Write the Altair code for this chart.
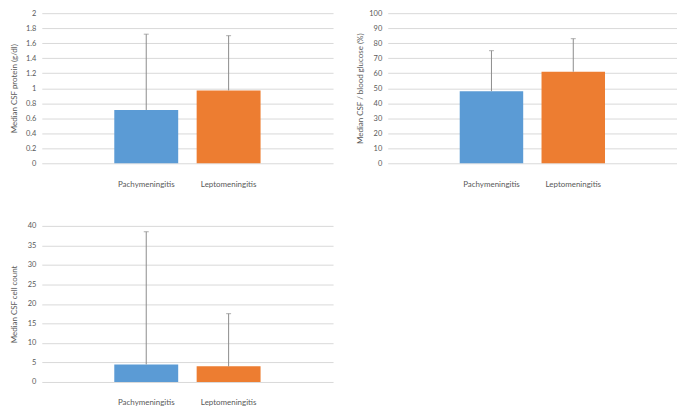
import altair as alt
import pandas as pd

categories = ["Pachymeningitis", "Leptomeningitis"]
colors = ["#5B9BD5", "#ED7D31"]

protein = [0.71, 0.97]
protein_upper = [1.72, 1.70]

glucose = [48, 61]
glucose_upper = [75, 83]

cells = [4.5, 4.0]
cells_upper = [38.5, 17.5]

FONT = "Lato"
TXT = "#595959"


def panel(values, upper, title, dmax, step, width, height):
    df = pd.DataFrame({"cat": categories, "v": values, "u": upper})
    ticks = [round(i * step, 6) for i in range(int(round(dmax / step)) + 1)]
    x = alt.X(
        "cat:N",
        sort=categories,
        scale=alt.Scale(paddingInner=0.224, paddingOuter=0.88),
        axis=alt.Axis(
            title=None, labelAngle=0, domain=False, ticks=False,
            labelPadding=17, labelFontSize=8, labelColor=TXT, labelFont=FONT,
        ),
    )
    y_axis = alt.Axis(
        title=title, values=ticks, format=".2~f", grid=True, domain=False,
        ticks=False, labelPadding=6, labelFontSize=7.5, labelColor=TXT,
        labelFont=FONT, titleFont=FONT, titleFontSize=8, titleColor=TXT,
        titleFontWeight="normal", titlePadding=5, minExtent=18, maxExtent=18,
        gridColor="#d9d9d9", gridWidth=1, labelOverlap=False,
    )
    yscale = alt.Scale(domain=[0, dmax], nice=False)
    y = alt.Y("v:Q", scale=yscale, axis=y_axis)
    base = alt.Chart(df)
    bars = base.mark_bar().encode(
        x=x, y=y,
        color=alt.Color("cat:N", scale=alt.Scale(domain=categories, range=colors), legend=None),
    )
    err = base.mark_rule(color="#8c8c8c", strokeWidth=1).encode(
        x=x, y=y, y2="u:Q"
    )
    cap = base.mark_tick(color="#8c8c8c", thickness=1, size=5).encode(
        x=x, y=alt.Y("u:Q", scale=yscale, axis=y_axis)
    )
    return alt.layer(bars, err, cap).properties(width=width, height=height)


p1 = panel(protein, protein_upper, "Median CSF protein (g/dl)", 2, 0.2, 293, 151)
p2 = panel(glucose, glucose_upper, "Median CSF / blood glucose (%)", 100, 10, 291, 151)
p3 = panel(cells, cells_upper, "Median CSF cell count", 40, 5, 293, 157)

chart = alt.vconcat(
    alt.hconcat(p1, p2, spacing=24),
    p3,
    spacing=34,
).properties(
    padding={"left": 3, "top": 0, "right": 0, "bottom": 0}
).configure(background="white").configure_view(stroke=None)

chart.save("out.html", embed_options={"renderer": "svg", "actions": False})
